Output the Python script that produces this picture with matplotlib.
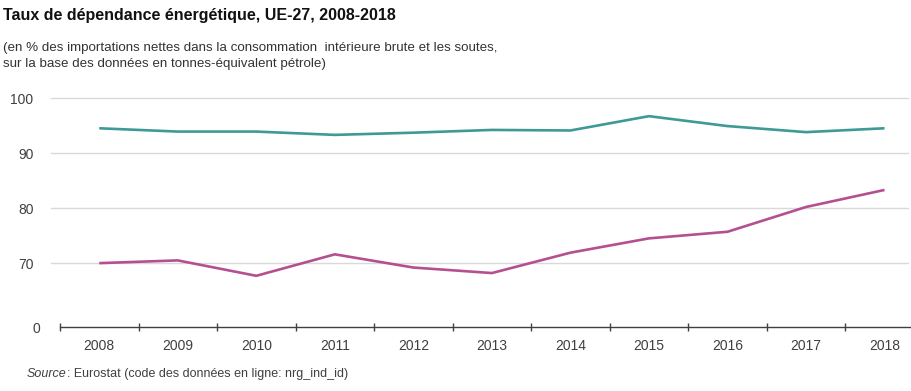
import matplotlib
matplotlib.use("Agg")
import matplotlib.pyplot as plt
from matplotlib.transforms import ScaledTranslation, offset_copy

annees = ['2008', '2009', '2010', '2011', '2012', '2013',
          '2014', '2015', '2016', '2017', '2018']
petrole = [94.5, 93.9, 93.9, 93.3, 93.7, 94.2, 94.1, 96.7, 94.9, 93.8, 94.5]
gaz = [70.0, 70.5, 67.7, 71.6, 69.2, 68.2, 71.9, 74.5, 75.7, 80.2, 83.3]

# Axe vertical coupé : 0 placé sous 70, puis 70 à 100
pos_zero = 58.4
graduations = [pos_zero, 70, 80, 90, 100]
etiquettes_y = ['0', '70', '80', '90', '100']

plt.rcParams['font.family'] = ['Liberation Sans', 'DejaVu Sans']

fig = plt.figure(figsize=(9.12, 3.91), dpi=100)
ax = fig.add_axes([60 / 912, 1 - 327 / 391, 852 / 912, (327 - 98) / 391])

x = range(len(annees))
ax.plot(x, petrole, color='#3f9a96', linewidth=1.9, solid_capstyle='butt')
ax.plot(x, gaz, color='#b4508f', linewidth=1.9, solid_capstyle='butt')

ax.set_ylim(pos_zero, 100)
ax.set_xlim(-0.5, 10.35)

# Lignes de grille horizontales
for v in [70, 80, 90, 100]:
    ax.axhline(v, xmin=-0.01, xmax=0.995, color='#d9d9d9', linewidth=1.0,
               zorder=0, clip_on=False)

ax.set_yticks(graduations)
ax.set_yticklabels(etiquettes_y)
ax.tick_params(axis='y', length=0, pad=19, labelsize=10, labelcolor='#404040')
# le 0 est un peu décalé vers la droite
lab0 = ax.get_yticklabels()[0]
lab0.set_transform(lab0.get_transform() + ScaledTranslation(7 / 100, 0, fig.dpi_scale_trans))

ax.set_xticks(list(x))
ax.set_xticklabels(annees)
ax.set_xticks([i - 0.5 for i in range(11)], minor=True)
ax.tick_params(axis='x', which='major', length=0, pad=9, labelsize=10, labelcolor='#404040')
ax.tick_params(axis='x', which='minor', length=6, width=1, color='#404040', direction='inout')

for cote in ['top', 'right', 'left']:
    ax.spines[cote].set_visible(False)
ax.spines['bottom'].set_color('#404040')
ax.spines['bottom'].set_linewidth(1.0)

fig.text(3 / 912, 1 - 8 / 391, 'Taux de dépendance énergétique, UE-27, 2008-2018',
         fontsize=11.5, fontweight='bold', color='#111111', va='top', ha='left')
fig.text(3 / 912, 1 - 42 / 391,
         '(en % des importations nettes dans la consommation  intérieure brute et les soutes,\n'
         'sur la base des données en tonnes-équivalent pétrole)',
         fontsize=9.6, color='#333333', va='top', ha='left', linespacing=1.5)

# Source : "Source" en italique, suivi du reste du texte
src = fig.text(27 / 912, 1 - 374 / 391, 'Source', fontsize=9, fontstyle='italic',
               color='#404040', va='center', ha='left')
fig.canvas.draw()
larg = src.get_window_extent().width
fig.text(27 / 912, 1 - 374 / 391, ': Eurostat (code des données en ligne: nrg_ind_id)',
         fontsize=9, color='#404040', va='center', ha='left',
         transform=offset_copy(fig.transFigure, fig=fig, x=larg, y=0, units='dots'))

fig.savefig('out.png', dpi=100, facecolor='white')
